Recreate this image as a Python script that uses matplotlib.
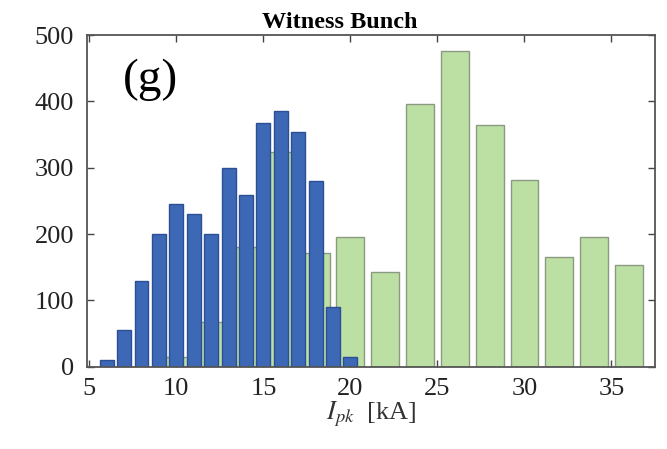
import numpy as np
import matplotlib
matplotlib.use('Agg')
import matplotlib.pyplot as plt
from matplotlib import rc

rc('font', **{'family': 'serif', 'serif': ['Liberation Serif', 'DejaVu Serif']})
rc('mathtext', fontset='stix')

# blue histogram: 1 kA bins
blue_centers = [6, 7, 8, 9, 10, 11, 12, 13, 14, 15, 16, 17, 18, 19, 20]
blue_counts = [10, 55, 130, 200, 245, 230, 200, 300, 259, 368, 386, 354, 280, 90, 15]

# green histogram: 2 kA bins
green_centers = [10, 12, 14, 16, 18, 20, 22, 24, 26, 28, 30, 32, 34, 36]
green_counts = [15, 68, 181, 324, 171, 195, 143, 396, 476, 365, 281, 165, 195, 154]

fig = plt.figure(figsize=(6.67, 4.49), dpi=100)
ax = fig.add_axes([0.130, 0.183, 0.852, 0.739])

ax.bar(green_centers, green_counts, width=1.6, color='#bcdfa4',
       edgecolor='#8a9a80', linewidth=1.0, zorder=2)
ax.bar(blue_centers, blue_counts, width=0.8, color='#3d68b6',
       edgecolor='#2c4f94', linewidth=1.0, zorder=3)

ax.set_xlim(4.85, 37.5)
ax.set_ylim(0, 500)
ax.set_xticks([5, 10, 15, 20, 25, 30, 35])
ax.set_yticks([0, 100, 200, 300, 400, 500])
ax.tick_params(direction='in', top=True, right=True, labelsize=19,
               length=5, width=1.0, colors='#444444', labelcolor='#222222')
ax.tick_params(axis='y', pad=9)
ax.tick_params(axis='x', pad=8)
for s in ax.spines.values():
    s.set_color('#555555')
    s.set_linewidth(1.3)
    s.set_zorder(5)

ax.set_xlabel(r'$I_{pk}$  [kA]', fontsize=19, color='#333333', labelpad=0)
ax.set_title('Witness Bunch', fontsize=17.5, fontweight='bold', pad=5, x=0.445)
ax.text(0.063, 0.93, '(g)', transform=ax.transAxes, fontsize=34,
        ha='left', va='top')

plt.savefig('out.png', dpi=100)
